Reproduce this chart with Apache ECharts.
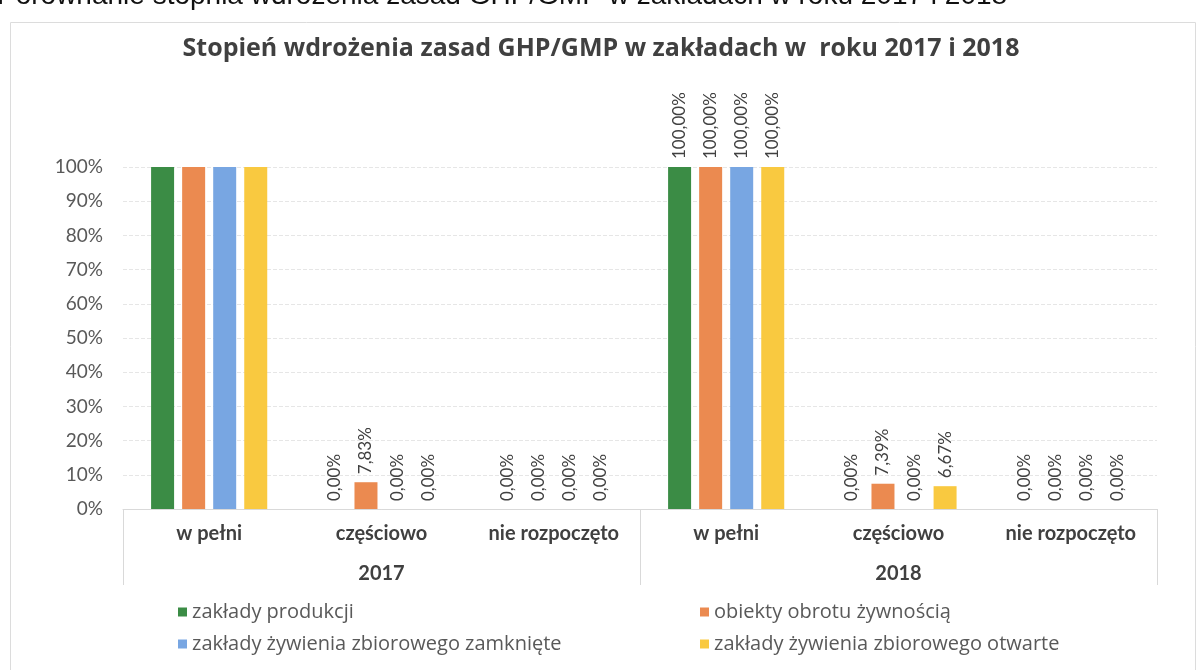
<!DOCTYPE html>
<html>
<head>
<meta charset="utf-8">
<script src="https://cdn.jsdelivr.net/npm/echarts@6/dist/echarts.min.js"></script>
<style>
  html, body { margin: 0; padding: 0; background: #fff; }
  #main { width: 1202px; height: 670px; }
</style>
</head>
<body>
<div id="main"></div>
<script>
const categories = ['w pełni', 'częściowo', 'nie rozpoczęto', 'w pełni', 'częściowo', 'nie rozpoczęto']
const years = ['2017', '2018']
const seriesNames = [
  'zakłady produkcji',
  'obiekty obrotu żywnością',
  'zakłady żywienia zbiorowego zamknięte',
  'zakłady żywienia zbiorowego otwarte'
]
const produkcja = [100, 0, 0, 100, 0, 0]
const obrot = [100, 7.83, 0, 100, 7.39, 0]
const zamkniete = [100, 0, 0, 100, 0, 0]
const otwarte = [100, 0, 0, 100, 6.67, 0]
// which categories show value labels in the original
const labelShown = [false, true, true, true, true, true]
const yTicks = [0, 10, 20, 30, 40, 50, 60, 70, 80, 90, 100]

const colors = ['#3b8c45', '#eb8a50', '#78a6e2', '#f9c940']
const FONT = 'Lato'
const WIDE = '"Open Sans"'

function toItems(values) {
  return values.map(function (v, i) {
    return labelShown[i] ? v : { value: v, label: { show: false } }
  })
}

function makeSeries(name, values) {
  return {
    name: name,
    type: 'bar',
    barWidth: 23,
    barGap: '35%',
    data: toItems(values),
    label: {
      show: true,
      position: 'top',
      rotate: 90,
      align: 'left',
      verticalAlign: 'middle',
      distance: 8,
      color: '#404040',
      fontSize: 17,
      fontFamily: FONT,
      formatter: p => p.value.toFixed(2).replace('.', ',') + '%'
    }
  }
}

const myChart = echarts.init(document.getElementById('main'))

const legendText = { fontSize: 20, color: '#595959', fontFamily: WIDE }

const option = {
  color: colors,
  animation: false,
  textStyle: { fontFamily: FONT },
  title: {
    text: 'Stopień wdrożenia zasad GHP/GMP w zakładach w  roku 2017 i 2018',
    left: 'center',
    top: 31,
    textStyle: { fontSize: 25, fontWeight: 'bold', color: '#404040', fontFamily: WIDE }
  },
  graphic: [
    {
      type: 'rect',
      shape: { x: 10.5, y: 22.5, width: 1185, height: 700 },
      style: { fill: 'none', stroke: '#dcdcdc', lineWidth: 1 },
      z: -1
    },
    {
      type: 'text',
      left: -3,
      top: -18,
      style: {
        text: 'Porównanie stopnia wdrożenia zasad GHP/GMP w zakładach w roku 2017 i 2018',
        font: '28px "Liberation Sans", Arial',
        fill: '#111'
      }
    }
  ],
  legend: [
    {
      data: [seriesNames[0], seriesNames[2]],
      orient: 'vertical',
      left: 173,
      top: 597,
      itemGap: 12,
      itemWidth: 9,
      itemHeight: 9,
      icon: 'rect',
      textStyle: legendText
    },
    {
      data: [seriesNames[1], seriesNames[3]],
      orient: 'vertical',
      left: 695,
      top: 597,
      itemGap: 12,
      itemWidth: 9,
      itemHeight: 9,
      icon: 'rect',
      textStyle: legendText
    }
  ],
  grid: { left: 123, right: 45, top: 167, bottom: 161 },
  xAxis: [
    {
      type: 'category',
      data: categories,
      axisLine: { lineStyle: { color: '#d9d9d9' } },
      axisTick: { show: false },
      axisLabel: { margin: 15, fontSize: 20, fontWeight: 'bold', color: '#404040', fontFamily: FONT }
    },
    {
      type: 'category',
      data: years,
      position: 'bottom',
      axisLine: { show: false },
      axisTick: { show: true, length: 76, lineStyle: { color: '#d9d9d9' } },
      axisLabel: { margin: 55, fontSize: 20, fontWeight: 'bold', color: '#404040', fontFamily: FONT }
    }
  ],
  yAxis: {
    type: 'value',
    min: yTicks[0],
    max: yTicks[yTicks.length - 1],
    interval: yTicks[1] - yTicks[0],
    axisLabel: { formatter: '{value}%', margin: 20, fontSize: 19, color: '#595959', fontFamily: FONT },
    splitLine: { lineStyle: { color: '#e6e6e6', type: 'dashed' } },
    axisLine: { show: false },
    axisTick: { show: false }
  },
  series: [
    makeSeries(seriesNames[0], produkcja),
    makeSeries(seriesNames[1], obrot),
    makeSeries(seriesNames[2], zamkniete),
    makeSeries(seriesNames[3], otwarte)
  ]
}

myChart.setOption(option)
</script>
</body>
</html>
